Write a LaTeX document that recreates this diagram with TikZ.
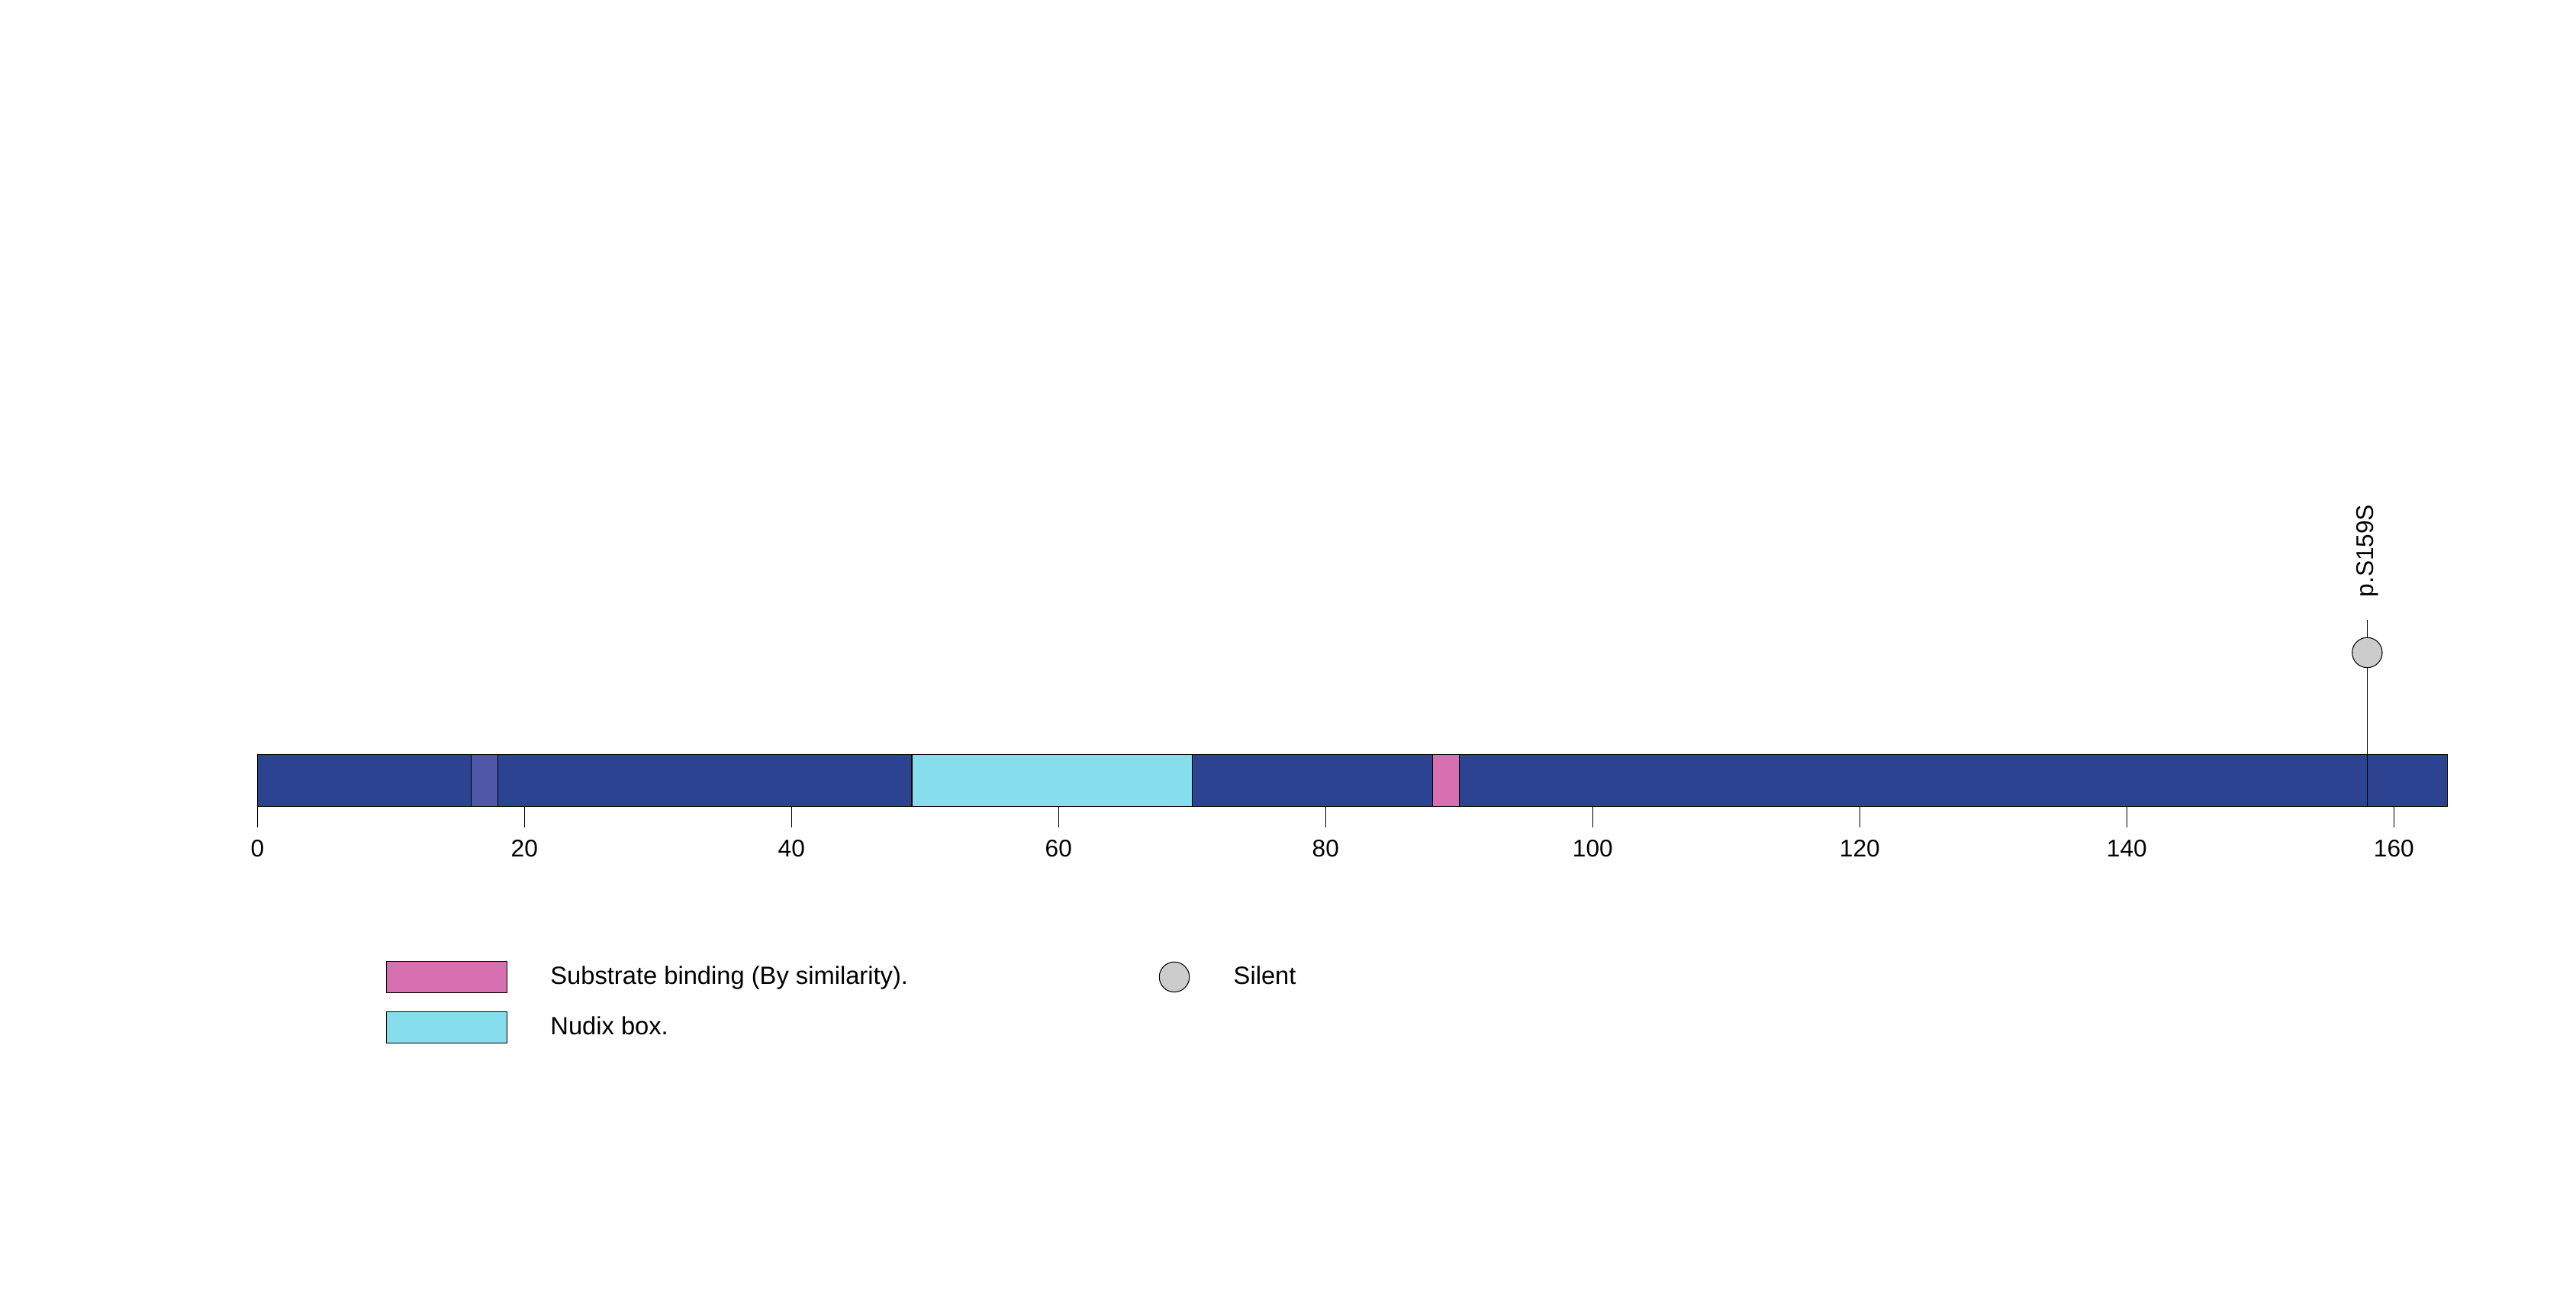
\documentclass[tikz,border=0pt]{standalone}
\usepackage{fontspec}
\setmainfont{Liberation Sans}
\definecolor{chainblue}{RGB}{43,67,144}
\definecolor{regionblue}{RGB}{80,86,168}
\definecolor{nudixcyan}{RGB}{134,222,236}
\definecolor{bindpink}{RGB}{214,112,176}
\definecolor{silentgrey}{RGB}{204,204,204}
\tikzset{
  segbox/.style={draw=black, line width=0.4pt},
  lolli/.style={circle, draw=black, line width=0.3pt, fill=silentgrey, minimum size=0.394cm, inner sep=0pt},
  axislabel/.style={anchor=base, inner sep=0pt, font=\fontsize{9}{10}\selectfont},
  legendtext/.style={anchor=base west, inner sep=0pt, font=\fontsize{9.3}{11}\selectfont},
}
\begin{document}
\begin{tikzpicture}
  \useasboundingbox (0,0) rectangle (33.76,16.90);

% protein chain, 164 residues; x in residues
\begin{scope}[xshift=3.373cm, x=0.175cm]
  \path[segbox, fill=chainblue] (0,6.337) rectangle (164,7.017);
  \path[segbox, fill=regionblue] (16,6.337) rectangle (18,7.017);
  \path[segbox, fill=nudixcyan] (49,6.337) rectangle (70,7.017);
  \path[segbox, fill=bindpink] (88,6.337) rectangle (90,7.017);

  % axis ticks
  \foreach \t in {0,20,...,160} {
    \draw[line width=0.3pt] (\t,6.337) -- (\t,6.057);
    \node[axislabel] (tick\t) at (\t,5.673) {\t};
  }

  % mutation p.S159S
  \coordinate (mbase) at (158,6.337);
  \coordinate (mtop) at (158,8.777);
  \draw[line width=0.3pt] (mbase) -- (mtop);
  \node[lolli] (mut) at (158,8.35) {};
  \node[rotate=90, anchor=west, inner sep=0pt, font=\fontsize{9}{10}\selectfont] (mutlabel) at (158,9.07) {p.S159S};
\end{scope}

% legend
  \path[segbox, line width=0.3pt, fill=bindpink] (5.063,3.897) rectangle (6.643,4.307);
  \node[legendtext] (legbind) at (7.207,4.00) {Substrate binding (By similarity).};
  \path[segbox, line width=0.3pt, fill=nudixcyan] (5.063,3.237) rectangle (6.643,3.647);
  \node[legendtext] (legnudix) at (7.207,3.34) {Nudix box.};
  \node[lolli] (legsilent) at (15.39,4.10) {};
  \node[legendtext] (legsilenttext) at (16.16,4.007) {Silent};
\end{tikzpicture}
\end{document}
